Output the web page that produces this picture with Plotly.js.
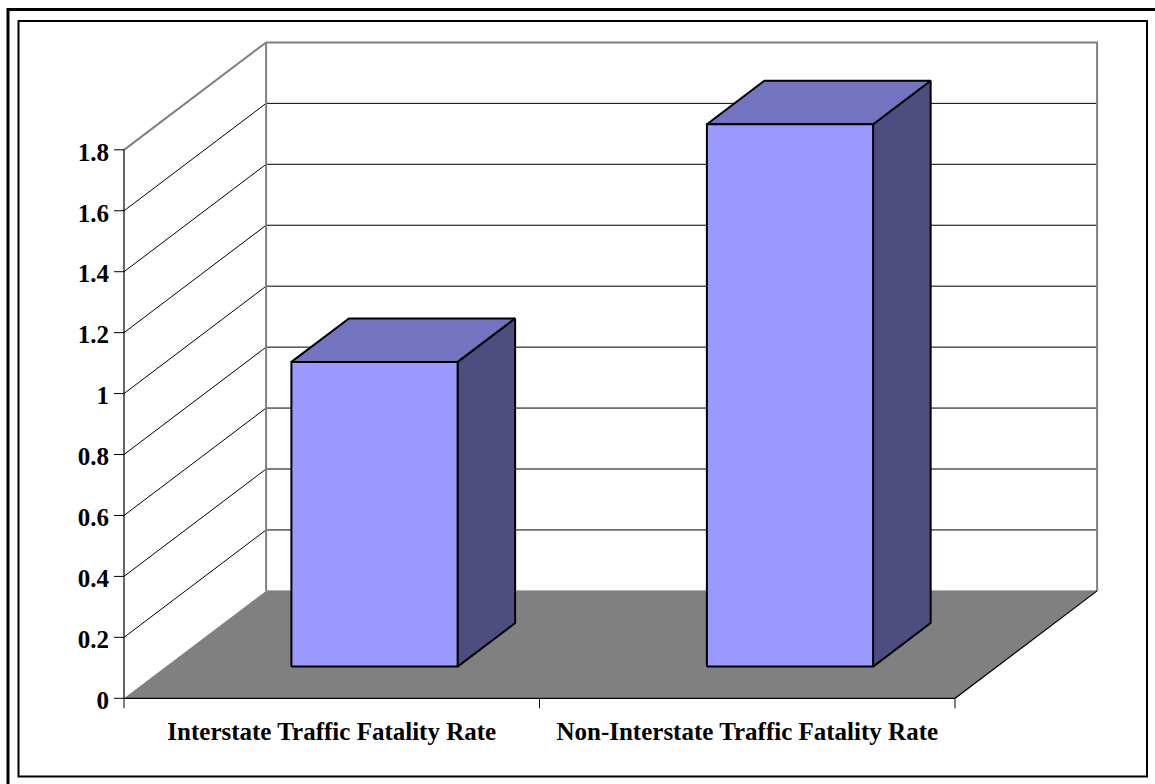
<!DOCTYPE html>
<html>
<head>
<meta charset="utf-8">
<script src="https://cdn.plot.ly/plotly-3.0.1.min.js"></script>
<style>html,body{margin:0;padding:0;background:#fff;overflow:hidden}#chart{width:1155px;height:784px}</style>
</head>
<body>
<div id="chart"></div>
<script>
// Fatality rates by road class
const categories = ["Interstate Traffic Fatality Rate", "Non-Interstate Traffic Fatality Rate"];
const rates = [1.0, 1.78];
const yTicks = [0, 0.2, 0.4, 0.6, 0.8, 1, 1.2, 1.4, 1.6, 1.8];
const yTickText = ["0", "0.2", "0.4", "0.6", "0.8", "1", "1.2", "1.4", "1.6", "1.8"];
const xBoundaries = [0, 1, 2];

// Oblique projection: how far one full unit of depth moves a point along each axis
const DEPTH_X = 0.342;
const DEPTH_Y = 0.3525;
const project = (x, y, depth) => [x + depth * DEPTH_X, y + depth * DEPTH_Y];

// Bar footprint inside its category slot and inside the depth of the floor
const BAR_LEFT = 0.302, BAR_RIGHT = 0.702, BAR_NEAR = 0.295, BAR_FAR = 0.7;

// Tick stub lengths in data units
const TICK_X = 0.024, TICK_Y = 0.033;

const traces = [];
function poly(points, fill, lineColor, lineWidth) {
  traces.push({
    type: "scatter", mode: "lines", hoverinfo: "skip", showlegend: false,
    x: points.map(p => p[0]), y: points.map(p => p[1]),
    fill: fill ? "toself" : "none", fillcolor: fill || undefined,
    line: {color: lineColor || fill, width: lineColor ? lineWidth : 0, simplify: false}
  });
}

const X_END = categories.length;
const Y_END = yTicks[yTicks.length - 1];

// Floor
poly([project(0,0,0), project(X_END,0,0), project(X_END,0,1), project(0,0,1), project(0,0,0)], "#808080");

// Gridlines on the side wall and the back wall
yTicks.forEach(v => {
  if (v === 0 || v === Y_END) return;
  poly([project(0,v,0), project(0,v,1), project(X_END,v,1)], null, "#000000", 1);
});

// Wall outline and floor edges
poly([project(0,Y_END,0), project(0,Y_END,1), project(X_END,Y_END,1), project(X_END,0,1)], null, "#808080", 2);
poly([project(0,0,1), project(0,Y_END,1)], null, "#808080", 2);
poly([project(0,0,1), project(X_END,0,1)], null, "#808080", 1);
poly([project(0,Y_END,0), project(0,0,0), project(X_END,0,0), project(X_END,0,1)], null, "#000000", 1.2);

// Value axis and category axis tick stubs
yTicks.forEach(v => poly([[-TICK_X, v], [0, v]], null, "#000000", 1));
xBoundaries.forEach(x => poly([[x, 0], [x, -TICK_Y]], null, "#000000", 1));

// Bars: side face, top face, front face
rates.forEach((v, i) => {
  const l = i + BAR_LEFT, r = i + BAR_RIGHT;
  poly([project(r,0,BAR_NEAR), project(r,0,BAR_FAR), project(r,v,BAR_FAR), project(r,v,BAR_NEAR), project(r,0,BAR_NEAR)], "#4d4d80", "#000000", 2);
  poly([project(l,v,BAR_NEAR), project(r,v,BAR_NEAR), project(r,v,BAR_FAR), project(l,v,BAR_FAR), project(l,v,BAR_NEAR)], "#7373bf", "#000000", 2);
  poly([project(l,0,BAR_NEAR), project(r,0,BAR_NEAR), project(r,v,BAR_NEAR), project(l,v,BAR_NEAR), project(l,0,BAR_NEAR)], "#9999ff", "#000000", 2);
});

// Plot area in page pixels, used to place the two frames around the figure
const M = {l: 110, r: 53, t: 38, b: 72};
const W = 1155, H = 784;
const px = x => (x - M.l) / (W - M.l - M.r);
const py = y => 1 - (y - M.t) / (H - M.t - M.b);
const frame = (x0, y0, x1, y1, w) => ({
  type: "rect", xref: "paper", yref: "paper", layer: "below",
  x0: px(x0), x1: px(x1), y0: py(y0), y1: py(y1),
  line: {color: "#000000", width: w}, fillcolor: "rgba(0,0,0,0)"
});

const tickFont = {family: '"Liberation Serif", "Times New Roman", serif', size: 25, color: "#000000", weight: 700};

const layout = {
  width: W, height: H,
  margin: M,
  paper_bgcolor: "#ffffff", plot_bgcolor: "#ffffff",
  showlegend: false,
  xaxis: {
    range: [-0.0337, 2.3538], showgrid: false, zeroline: false, showline: false,
    tickmode: "array", tickvals: [0.5, 1.5], ticktext: categories,
    ticks: "", tickangle: 0, tickfont: tickFont, ticklabelstandoff: 2
  },
  yaxis: {
    range: [-0.045, 2.167], showgrid: false, zeroline: false, showline: false,
    tickmode: "array", tickvals: yTicks, ticktext: yTickText,
    ticks: "", tickfont: tickFont, ticklabelstandoff: 0, ticklabelshift: 2
  },
  shapes: [
    frame(8, 9.5, 1170, 800, 3),
    frame(18.5, 21, 1147, 776.5, 2)
  ]
};

Plotly.newPlot("chart", traces, layout, {displayModeBar: false, staticPlot: true});
</script>
</body>
</html>
